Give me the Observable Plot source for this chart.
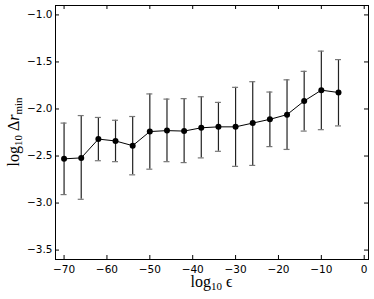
<!DOCTYPE html>
<html>
<head>
<meta charset="utf-8">
<script src="https://cdn.jsdelivr.net/npm/d3@7"></script>
<script src="https://cdn.jsdelivr.net/npm/@observablehq/plot@0.6"></script>
<style>
  html, body { margin: 0; padding: 0; background: #fff; }
  #chart svg { display: block; }
</style>
</head>
<body>
<div id="chart"></div>
<script>
// Data
const xVals = [-70, -66, -62, -58, -54, -50, -46, -42, -38, -34, -30, -26, -22, -18, -14, -10, -6];
const yMean = [-2.53, -2.52, -2.32, -2.34, -2.39, -2.24, -2.23, -2.235, -2.20, -2.19, -2.19, -2.15, -2.11, -2.06, -1.915, -1.80, -1.825];
const yLow  = [-2.91, -2.96, -2.55, -2.56, -2.70, -2.64, -2.56, -2.57, -2.52, -2.45, -2.61, -2.60, -2.40, -2.43, -2.235, -2.22, -2.18];
const yHigh = [-2.15, -2.07, -2.09, -2.12, -2.08, -1.84, -1.895, -1.89, -1.87, -1.93, -1.77, -1.71, -1.82, -1.69, -1.60, -1.385, -1.475];

const xTicks = [-70, -60, -50, -40, -30, -20, -10, 0];
const yTicks = [-3.5, -3.0, -2.5, -2.0, -1.5, -1.0];
const xDomain = [-72, 1];
const yDomain = [-3.6, -0.9];

const data = xVals.map((x, i) => ({x, y: yMean[i], lo: yLow[i], hi: yHigh[i]}));

const W = 374, H = 299;
const mL = 55, mR = 6, mT = 5, mB = 40;
const tickLen = 4;

const plot = Plot.plot({
  width: W,
  height: H,
  marginLeft: mL,
  marginRight: mR,
  marginTop: mT,
  marginBottom: mB,
  style: {fontFamily: "DejaVu Sans", fontSize: "10.5px", color: "#000", background: "#fff"},
  x: {domain: xDomain, axis: null},
  y: {domain: yDomain, axis: null},
  marks: [
    // tick labels
    Plot.axisX(xTicks, {anchor: "bottom", tickSize: 0, tickPadding: 6, tickFormat: d3.format("d"), label: null, fontSize: 10.5}),
    Plot.axisY(yTicks, {anchor: "left", tickSize: 0, tickPadding: 3, tickFormat: d3.format(".1f"), label: null, fontSize: 10.5}),
    // inward ticks on all four sides
    Plot.ruleX(xTicks, {x: d => d, y1: yDomain[0], y2: yDomain[0], insetTop: -tickLen, stroke: "#000"}),
    Plot.ruleX(xTicks, {x: d => d, y1: yDomain[1], y2: yDomain[1], insetBottom: -tickLen, stroke: "#000"}),
    Plot.ruleY(yTicks, {y: d => d, x1: xDomain[0], x2: xDomain[0], insetRight: -tickLen, stroke: "#000"}),
    Plot.ruleY(yTicks, {y: d => d, x1: xDomain[1], x2: xDomain[1], insetLeft: -tickLen, stroke: "#000"}),
    // error bars
    Plot.ruleX(data, {x: "x", y1: "lo", y2: "hi", stroke: "#222", strokeWidth: 1.2}),
    Plot.ruleY(data, {y: "hi", x1: "x", x2: "x", insetLeft: -3, insetRight: -3, stroke: "#777", strokeWidth: 1.2}),
    Plot.ruleY(data, {y: "lo", x1: "x", x2: "x", insetLeft: -3, insetRight: -3, stroke: "#777", strokeWidth: 1.2}),
    // line and markers
    Plot.line(data, {x: "x", y: "y", stroke: "#000", strokeWidth: 1}),
    Plot.dot(data, {x: "x", y: "y", r: 3, fill: "#000", stroke: "none"}),
    Plot.frame({stroke: "#000", strokeWidth: 1})
  ]
});

document.getElementById("chart").appendChild(plot);

// Axis labels with sub-scripts, as real text
const svg = d3.select(plot);
const cx = (mL + (W - mR)) / 2;
const cy = (mT + (H - mB)) / 2;

const xl = svg.append("text")
  .attr("x", cx)
  .attr("y", 287)
  .attr("text-anchor", "middle")
  .attr("font-family", "Liberation Serif, DejaVu Serif, serif")
  .attr("font-size", 16)
  .attr("fill", "#000");
xl.append("tspan").text("log");
xl.append("tspan").attr("font-size", 11).attr("dy", 3).text("10");
xl.append("tspan").attr("dy", -3).text(" \u03F5");

const yl = svg.append("text")
  .attr("transform", `translate(19,${cy}) rotate(-90)`)
  .attr("text-anchor", "middle")
  .attr("font-family", "Liberation Serif, DejaVu Serif, serif")
  .attr("font-size", 16)
  .attr("fill", "#000");
yl.append("tspan").text("log");
yl.append("tspan").attr("font-size", 11).attr("dy", 3).text("10");
yl.append("tspan").attr("dy", -3).text(" \u0394");
yl.append("tspan").attr("font-style", "italic").text("r");
yl.append("tspan").attr("font-size", 11).attr("dy", 3).text("min");
</script>
</body>
</html>
